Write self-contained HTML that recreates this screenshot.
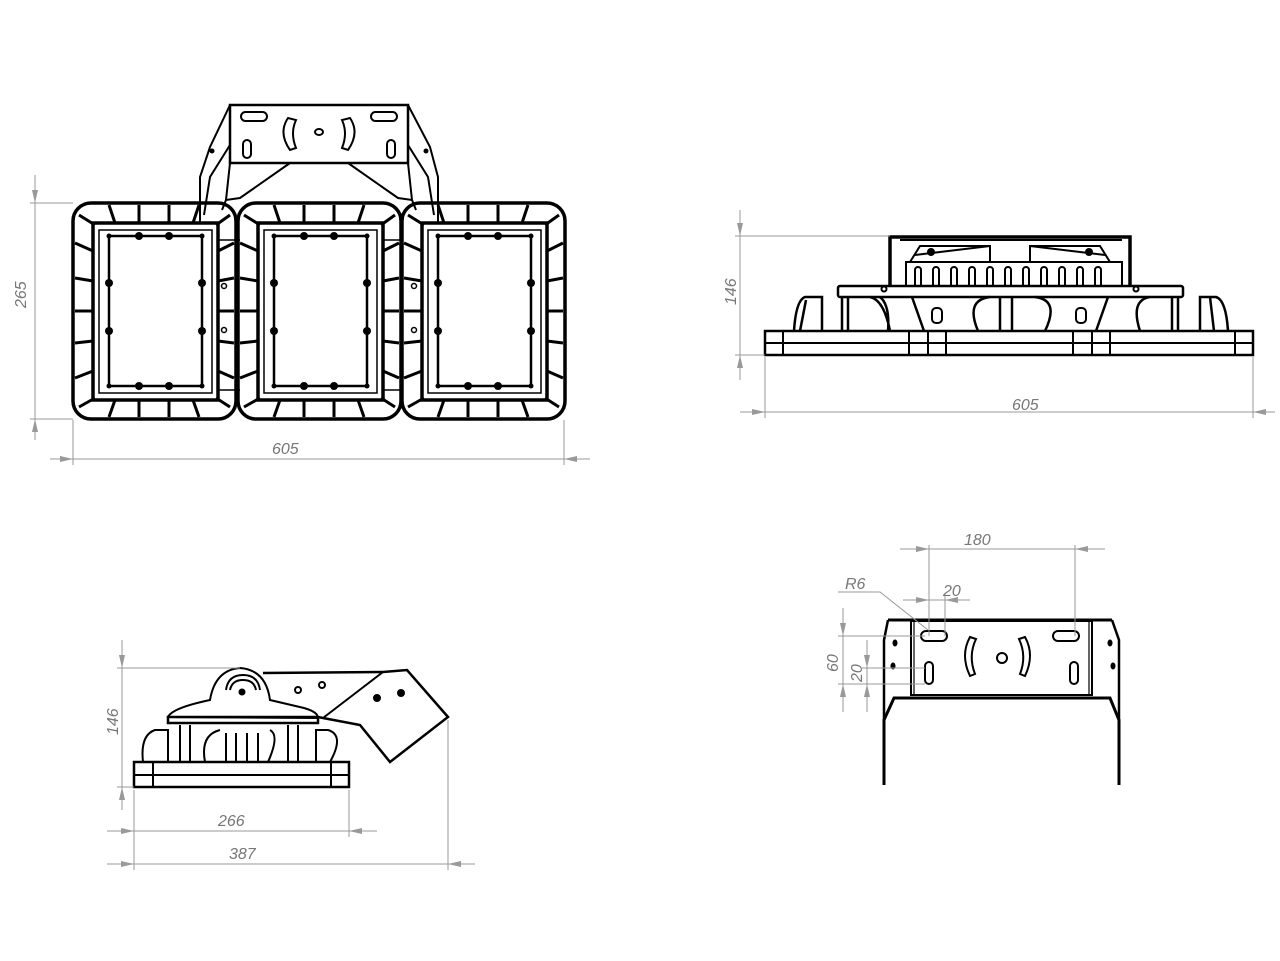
<!DOCTYPE html>
<html><head><meta charset="utf-8"><style>
html,body{margin:0;padding:0;background:#fff;}
svg{display:block}
text{font-family:"Liberation Sans",sans-serif;font-style:italic;fill:#777;font-size:16px}
</style></head><body>
<svg width="1280" height="961" viewBox="0 0 1280 961" xmlns="http://www.w3.org/2000/svg">
<defs>
<g id="mod" fill="none" stroke="#000">
  <rect x="0" y="0" width="163" height="216" rx="18" stroke-width="3.5"/>
  <rect x="20" y="20" width="125" height="177" stroke-width="3.5"/>
  <rect x="26" y="27" width="113" height="163" stroke-width="1.5"/>
  <rect x="36" y="33" width="93" height="150" stroke-width="2.5"/>
  <g stroke-width="3">
    <path d="M36 2 L42 20 M66 2 L66 20 M96 2 L96 20 M126 2 L120 20"/>
    <path d="M36 214 L42 197 M66 214 L66 197 M96 214 L96 197 M126 214 L120 197"/>
    <path d="M2 40 L20 48 M2 75 L20 78 M2 108 L20 108 M2 140 L20 138 M2 175 L20 168"/>
    <path d="M161 40 L145 48 M161 75 L145 78 M161 108 L145 108 M161 140 L145 138 M161 175 L145 168"/>
    <path d="M6 12 L22 22 M157 12 L143 22 M6 204 L22 195 M157 204 L143 195"/>
  </g>
  <g fill="#000" stroke="none">
    <circle cx="66" cy="33" r="4"/><circle cx="96" cy="33" r="4"/>
    <circle cx="66" cy="183" r="4"/><circle cx="96" cy="183" r="4"/>
    <circle cx="36" cy="80" r="4"/><circle cx="36" cy="128" r="4"/>
    <circle cx="129" cy="80" r="4"/><circle cx="129" cy="128" r="4"/>
    <circle cx="36" cy="33" r="2.5"/><circle cx="129" cy="33" r="2.5"/>
    <circle cx="36" cy="183" r="2.5"/><circle cx="129" cy="183" r="2.5"/>
  </g>
</g>
</defs>

<!-- ===== TOP-LEFT VIEW ===== -->
<g fill="none" stroke="#000" stroke-width="2">
  <path d="M230 105 L210 147 L200 177 L200 222 M408 105 L430 147 L438 177 L438 222" stroke-width="2"/>
  <path d="M204 215 L210 177 L230 145 M434 215 L428 177 L408 145" stroke-width="2"/>
  <rect x="230" y="105" width="178" height="58" stroke-width="2.5" fill="#fff"/>
  <path d="M230 163 L226 200 L240 198 L290 163 M408 163 L412 200 L398 198 L348 163" stroke-width="2"/>
  <path d="M222 210 L226 200 M416 210 L412 200" />
  <rect x="241" y="112" width="26" height="9" rx="4.5"/>
  <rect x="371" y="112" width="26" height="9" rx="4.5"/>
  <rect x="243" y="140" width="8" height="18" rx="4"/>
  <rect x="387" y="140" width="8" height="18" rx="4"/>
  <path d="M288 118 Q278 133 290 150 L296 148 Q290 133 296 120 Z"/>
  <path d="M350 118 Q360 133 348 150 L342 148 Q348 133 342 120 Z"/>
  <ellipse cx="319" cy="132" rx="4" ry="3"/>
  <circle cx="212" cy="151" r="1.5" fill="#000"/><circle cx="426" cy="151" r="1.5" fill="#000"/>
</g>
<use href="#mod" x="73" y="203"/>
<use href="#mod" x="238" y="203"/>
<use href="#mod" x="402" y="203"/>
<g fill="none" stroke="#000" stroke-width="1.5">
  <path d="M218 240 L240 240 M218 390 L240 390 M383 240 L403 240 M383 390 L403 390"/>
  <circle cx="224" cy="286" r="2.5"/><circle cx="224" cy="330" r="2.5"/>
  <circle cx="414" cy="286" r="2.5"/><circle cx="414" cy="330" r="2.5"/>
</g>
<!-- dims -->
<g stroke="#999" stroke-width="1" fill="none">
  <path d="M35 175 L35 440 M30 203 L73 203 M30 419 L73 419"/>
  <path d="M50 459 L590 459 M73 420 L73 465 M564 420 L564 465"/>
</g>
<g fill="#999">
  <path d="M35 203 L32 190 L38 190Z M35 419 L32 432 L38 432Z M73 459 L60 456 L60 462Z M564 459 L577 456 L577 462Z"/>
</g>
<text x="0" y="0" transform="translate(26 308) rotate(-90)">265</text>
<text x="272" y="454">605</text>

<!-- ===== TOP-RIGHT VIEW ===== -->
<g fill="none" stroke="#000" stroke-width="2">
  <rect x="765" y="331" width="488" height="24" stroke-width="2.5"/>
  <path d="M765 343 L1253 343 M783 331 L783 355 M909 331 L909 355 M928 331 L928 355 M946 331 L946 355 M1073 331 L1073 355 M1092 331 L1092 355 M1110 331 L1110 355 M1235 331 L1235 355"/>
  <rect x="838" y="286" width="345" height="11" rx="2" stroke-width="2.5"/>
  <path d="M890 286 L890 237 L1130 237 L1130 286" stroke-width="3.5"/>
  <path d="M900 240 L1122 240" stroke-width="2"/>
  <rect x="906" y="262" width="216" height="24"/>
  <path d="M910 262 L920 246 L990 246 L990 262 M1110 262 L1100 246 L1030 246 L1030 262"/>
  <path d="M915 255 L990 246 M1105 255 L1030 246"/>
  <circle cx="931" cy="252" r="3" fill="#000"/><circle cx="1089" cy="252" r="3" fill="#000"/>
  <g stroke-width="2">
    <path d="M915 286 v-16 a3 3 0 0 1 6 0 v16 M933 286 v-16 a3 3 0 0 1 6 0 v16 M951 286 v-16 a3 3 0 0 1 6 0 v16 M969 286 v-16 a3 3 0 0 1 6 0 v16 M987 286 v-16 a3 3 0 0 1 6 0 v16 M1005 286 v-16 a3 3 0 0 1 6 0 v16 M1023 286 v-16 a3 3 0 0 1 6 0 v16 M1041 286 v-16 a3 3 0 0 1 6 0 v16 M1059 286 v-16 a3 3 0 0 1 6 0 v16 M1077 286 v-16 a3 3 0 0 1 6 0 v16 M1095 286 v-16 a3 3 0 0 1 6 0 v16"/>
  </g>
  <g stroke-width="2.5">
    <path d="M794 331 Q796 300 805 297 L822 297 L822 331 M800 331 L806 300"/>
    <path d="M842 297 L842 331 M848 297 L848 331 M870 297 Q884 300 890 331 M880 297 Q890 305 888 331"/>
    <path d="M912 297 L924 331 M1108 297 L1096 331"/>
    <path d="M978 331 Q965 300 990 297 M1000 297 L1000 331 M1012 297 L1012 331 M1045 331 Q1060 300 1035 297"/>
    <path d="M1140 331 Q1130 300 1150 297 M1172 297 L1172 331 M1178 297 L1178 331"/>
    <path d="M1200 331 L1200 297 L1216 297 Q1226 300 1228 331 M1210 297 L1214 331"/>
  </g>
  <rect x="932" y="308" width="10" height="15" rx="4"/>
  <rect x="1076" y="308" width="10" height="15" rx="4"/>
  <circle cx="884" cy="289" r="2.5" fill="#fff"/><circle cx="1136" cy="289" r="2.5" fill="#fff"/>
</g>
<g stroke="#999" stroke-width="1" fill="none">
  <path d="M740 210 L740 380 M735 236 L890 236 M735 355 L765 355"/>
  <path d="M740 412 L1275 412 M765 357 L765 418 M1253 357 L1253 418"/>
</g>
<g fill="#999">
  <path d="M740 236 L737 223 L743 223Z M740 355 L737 368 L743 368Z M765 412 L752 409 L752 415Z M1253 412 L1266 409 L1266 415Z"/>
</g>
<text transform="translate(736 305) rotate(-90)">146</text>
<text x="1012" y="410">605</text>

<!-- ===== BOTTOM-LEFT VIEW ===== -->
<g fill="none" stroke="#000" stroke-width="2">
  <path d="M263 673 L383 672 L407 670 L448 717 L390 762 L360 725 L323 718 L313 716" stroke-width="2.5" fill="#fff"/>
  <path d="M383 672 L323 718"/>
  <rect x="134" y="762" width="215" height="25" stroke-width="2.5"/>
  <path d="M134 775 L349 775 M153 762 L153 787 M331 762 L331 787"/>
  <path d="M168 717 Q172 708 210 700 Q215 670 240 668 Q266 670 270 700 L304 708 Q318 712 318 718 Z" fill="#fff"/>
  <path d="M226 690 Q228 675 243 675 Q258 675 260 690 M230 690 Q232 680 243 680 Q254 680 256 690" stroke-width="2"/>
  <rect x="168" y="717" width="150" height="6" stroke-width="2.5"/>
  <g stroke-width="2">
    <path d="M143 762 Q140 735 155 730 L168 730 L168 762 M330 762 Q345 735 328 730 L316 730 L316 762"/>
    <path d="M180 725 L180 762 M190 725 L190 762 M205 762 Q200 735 220 730 M226 733 L226 762 M236 733 L236 762 M247 733 L247 762 M258 733 L258 762 M268 762 Q280 735 270 730 M288 725 L288 762 M298 725 L298 762"/>
  </g>
  <circle cx="242" cy="692" r="2.5" fill="#000"/>
  <circle cx="298" cy="690" r="3"/><circle cx="322" cy="685" r="3"/>
  <circle cx="377" cy="698" r="3" fill="#000"/><circle cx="401" cy="693" r="3" fill="#000"/>
</g>
<g stroke="#999" stroke-width="1" fill="none">
  <path d="M122 640 L122 810 M117 668 L240 668 M117 787 L134 787"/>
  <path d="M107 831 L377 831 M134 790 L134 870 M349 790 L349 837"/>
  <path d="M107 864 L475 864 M448 720 L448 870"/>
</g>
<g fill="#999">
  <path d="M122 668 L119 655 L125 655Z M122 787 L119 800 L125 800Z M134 831 L121 828 L121 834Z M349 831 L362 828 L362 834Z M134 864 L121 861 L121 867Z M448 864 L461 861 L461 867Z"/>
</g>
<text transform="translate(118 735) rotate(-90)">146</text>
<text x="218" y="826">266</text>
<text x="229" y="859">387</text>

<!-- ===== BOTTOM-RIGHT VIEW ===== -->
<g fill="none" stroke="#000" stroke-width="2">
  <path d="M888 620 L1112 620" stroke-width="3"/>
  <path d="M888 620 L884 640 L884 720 M1112 620 L1119 640 L1119 720" stroke-width="2.5"/>
  <path d="M884 785 L884 720 L894 698 L1110 698 L1119 720 L1119 785" stroke-width="3"/>
  <rect x="911" y="621" width="181" height="74" stroke-width="2"/>
  <path d="M914 621 L914 695 M1089 621 L1089 695" stroke-width="1.2"/>
  <rect x="921" y="631" width="26" height="10" rx="5"/>
  <rect x="1053" y="631" width="26" height="10" rx="5"/>
  <rect x="925" y="662" width="8" height="22" rx="4"/>
  <rect x="1070" y="662" width="8" height="22" rx="4"/>
  <path d="M970 637 Q960 655 970 676 L975 674 Q968 656 976 639 Z"/>
  <path d="M1025 637 Q1035 655 1025 676 L1020 674 Q1027 656 1019 639 Z"/>
  <circle cx="1002" cy="658" r="5"/>
  <ellipse cx="895" cy="643" rx="1.5" ry="2.5" fill="#000"/><ellipse cx="893" cy="666" rx="1.5" ry="2.5" fill="#000"/>
  <ellipse cx="1110" cy="643" rx="1.5" ry="2.5" fill="#000"/><ellipse cx="1113" cy="666" rx="1.5" ry="2.5" fill="#000"/>
</g>
<g stroke="#999" stroke-width="1" fill="none">
  <path d="M900 549 L1105 549 M929 545 L929 636 M1075 545 L1075 636"/>
  <path d="M903 600 L970 600 M945 595 L945 636"/>
  <path d="M838 592 L880 592 L928 630"/>
  <path d="M843 608 L843 712 M838 636 L925 636 M838 684 L925 684"/>
  <path d="M867 640 L867 712 M862 668 L925 668"/>
</g>
<g fill="#999">
  <path d="M929 549 L916 546 L916 552Z M1075 549 L1088 546 L1088 552Z M929 600 L916 597 L916 603Z M945 600 L958 597 L958 603Z M843 636 L840 623 L846 623Z M843 684 L840 697 L846 697Z M867 668 L864 655 L870 655Z M867 684 L864 697 L870 697Z"/>
</g>
<text x="964" y="545">180</text>
<text x="943" y="596">20</text>
<text x="845" y="589">R6</text>
<text transform="translate(838 672) rotate(-90)">60</text>
<text transform="translate(862 682) rotate(-90)">20</text>
</svg>
</body></html>
